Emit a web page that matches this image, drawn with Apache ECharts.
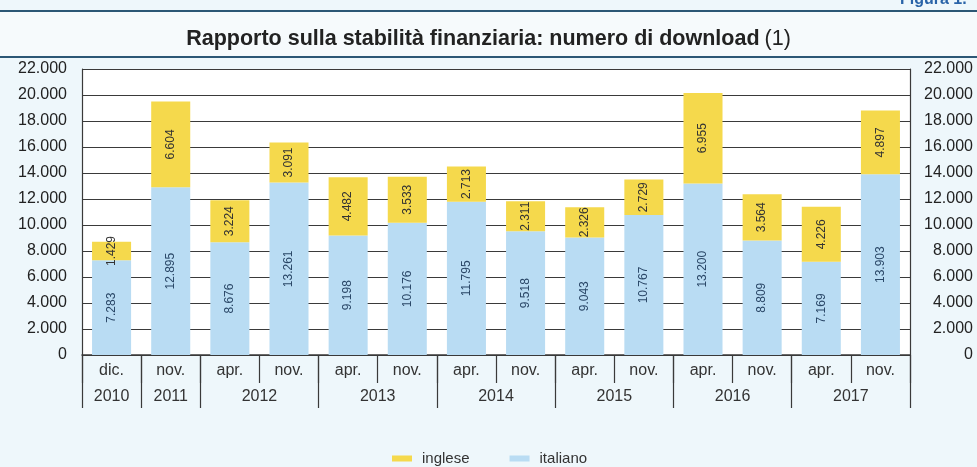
<!DOCTYPE html>
<html>
<head>
<meta charset="utf-8">
<script src="https://cdn.jsdelivr.net/npm/echarts@6/dist/echarts.min.js"></script>
<style>
html,body{margin:0;padding:0;background:#eef7fb;}
#c{width:977px;height:467px;}
</style>
</head>
<body>
<div id="c"></div>
<script>
// Data
const months = ['dic.','nov.','apr.','nov.','apr.','nov.','apr.','nov.','apr.','nov.','apr.','nov.','apr.','nov.'];
const years = ['2010','2011','2012','2012','2013','2013','2014','2014','2015','2015','2016','2016','2017','2017'];
const italiano = [7283,12895,8676,13261,9198,10176,11795,9518,9043,10767,13200,8809,7169,13903];
const inglese = [1429,6604,3224,3091,4482,3533,2713,2311,2326,2729,6955,3564,4226,4897];
const yTicks = [0,2000,4000,6000,8000,10000,12000,14000,16000,18000,20000,22000];

const fmt = v => String(v).replace(/\B(?=(\d{3})+(?!\d))/g, '.');

// year groups: centre position (in category units) -> label
const yearCentres = {};
years.forEach((y, i) => {
  if (!(y in yearCentres)) yearCentres[y] = [i, i];
  yearCentres[y][1] = i;
});
const centreMap = {};
Object.keys(yearCentres).forEach(y => {
  const c = (yearCentres[y][0] + yearCentres[y][1] + 1) / 2;
  centreMap[c.toFixed(1)] = y;
});

const chart = echarts.init(document.getElementById('c'));
const FONT = 'Liberation Sans, Arial, sans-serif';
const yAxisCommon = {
  type: 'value',
  min: yTicks[0],
  max: yTicks[yTicks.length - 1],
  interval: yTicks[1] - yTicks[0],
  axisTick: {show: false},
  axisLine: {show: true, lineStyle: {color: '#3a3a3a', width: 1.2}},
};
chart.setOption({
  animation: false,
  backgroundColor: '#eef7fb',
  title: {
    text: '{b|Rapporto sulla stabilità finanziaria: numero di download} {n|(1)}',
    left: 'center',
    top: 23,
    textStyle: {
      rich: {
        b: {fontFamily: FONT, fontSize: 21.5, fontWeight: 'bold', color: '#222'},
        n: {fontFamily: FONT, fontSize: 21.5, fontWeight: 'normal', color: '#222'}
      }
    }
  },
  graphic: [
    {type: 'rect', left: 0, top: 12, shape: {width: 977, height: 45}, style: {fill: '#f6fafc'}, silent: true},
    {type: 'rect', left: 0, top: 10, shape: {width: 977, height: 2}, style: {fill: '#2c5775'}, silent: true},
    {type: 'rect', left: 0, top: 56, shape: {width: 977, height: 2}, style: {fill: '#2c5775'}, silent: true},
    {type: 'text', left: 900, top: -8, style: {text: 'Figura 1.', font: 'bold 16px ' + FONT, fill: '#2a64a8'}, silent: true}
  ],
  legend: {
    top: 446,
    left: 387,
    itemWidth: 20,
    itemHeight: 6,
    itemGap: 40,
    icon: 'rect',
    data: ['inglese', 'italiano'],
    textStyle: {fontFamily: FONT, fontSize: 15, color: '#333', padding: [0, 0, 0, 5]}
  },
  grid: {left: 82, right: 67, top: 69, bottom: 112, show: true, backgroundColor: '#ffffff', borderWidth: 0},
  xAxis: [
    {
      type: 'category',
      data: months,
      position: 'bottom',
      axisLine: {show: true, lineStyle: {color: '#3a3a3a', width: 1.5}},
      axisTick: {show: true, length: 28, interval: 0, lineStyle: {color: '#3a3a3a', width: 1.2}},
      axisLabel: {interval: 0, margin: 8, fontFamily: FONT, fontSize: 16, color: '#333'},
      splitLine: {show: false}
    },
    {
      type: 'category',
      data: years,
      position: 'bottom',
      axisLine: {show: false},
      axisTick: {show: true, length: 53, interval: (i) => i === 0 || years[i] !== years[i - 1], lineStyle: {color: '#3a3a3a', width: 1.2}},
      axisLabel: {show: false},
      splitLine: {show: false}
    },
    {
      type: 'value',
      position: 'bottom',
      min: 0,
      max: months.length,
      interval: 0.5,
      axisLine: {show: false},
      axisTick: {show: false},
      splitLine: {show: false},
      axisLabel: {
        margin: 34, fontFamily: FONT, fontSize: 16, color: '#333',
        showMinLabel: false, showMaxLabel: false,
        formatter: v => centreMap[v.toFixed(1)] || ''
      }
    }
  ],
  yAxis: [
    Object.assign({}, yAxisCommon, {
      position: 'left',
      splitLine: {show: true, lineStyle: {color: '#3a3a3a', width: 1.2}},
      axisLabel: {margin: 15, fontFamily: FONT, fontSize: 16, color: '#222', formatter: fmt}
    }),
    Object.assign({}, yAxisCommon, {
      position: 'right',
      splitLine: {show: false},
      axisLabel: {margin: 63, align: 'right', fontFamily: FONT, fontSize: 16, color: '#222', formatter: fmt}
    })
  ],
  series: [
    {
      name: 'italiano',
      type: 'bar',
      stack: 'tot',
      barWidth: '66%',
      data: italiano,
      itemStyle: {color: '#b9dcf3'},
      label: {
        show: true, position: 'inside', rotate: 90,
        fontFamily: FONT, fontSize: 12, color: '#2a4767',
        formatter: p => fmt(p.value)
      }
    },
    {
      name: 'inglese',
      type: 'bar',
      stack: 'tot',
      barWidth: '66%',
      data: inglese,
      itemStyle: {color: '#f5d94c'},
      label: {
        show: true, position: 'inside', rotate: 90,
        fontFamily: FONT, fontSize: 12, color: '#333',
        formatter: p => fmt(p.value)
      }
    }
  ]
});
</script>
</body>
</html>
